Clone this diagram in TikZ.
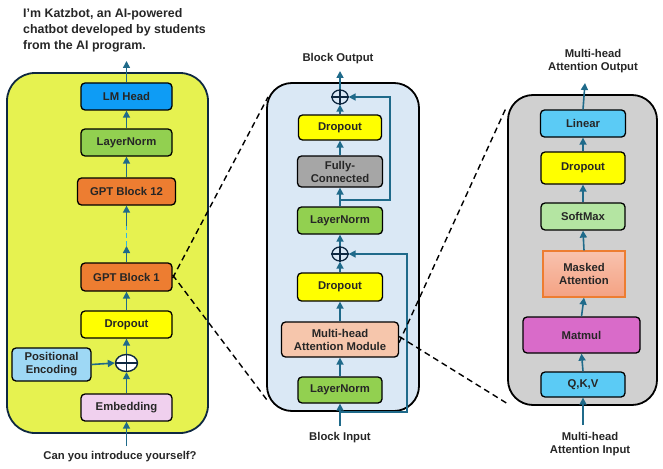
\documentclass[tikz,border=0pt]{standalone}
\usepackage{fontspec}
\setmainfont{Liberation Sans}
\usetikzlibrary{arrows.meta,shapes.geometric}
\definecolor{arr}{HTML}{1F6A8A}
\definecolor{navy}{HTML}{0E2841}
\definecolor{leftbg}{HTML}{E6F250}
\definecolor{midbg}{HTML}{DAE8F5}
\definecolor{rightbg}{HTML}{D0D0D0}
\definecolor{lmblue}{HTML}{0E9CF5}
\definecolor{lngreen}{HTML}{92D050}
\definecolor{gptorange}{HTML}{ED7D31}
\definecolor{dropyellow}{HTML}{FFFF00}
\definecolor{peblue}{HTML}{9ED8F5}
\definecolor{embpink}{HTML}{F0D0EE}
\definecolor{fcgray}{HTML}{A6A6A6}
\definecolor{mhapeach}{HTML}{F6C6AC}
\definecolor{skyblue}{HTML}{5BCBF5}
\definecolor{smgreen}{HTML}{B4E5A2}
\definecolor{matpink}{HTML}{D96BC9}
\definecolor{masktop}{HTML}{F8C2AE}
\definecolor{maskbot}{HTML}{F4A283}
\definecolor{lightdash}{HTML}{2FB4E8}
\begin{document}
\begin{tikzpicture}[x=1pt,y=-1pt,
  font=\bfseries\fontsize{11.3}{13}\selectfont,
  box/.style={draw=black, line width=1.3pt, rounded corners=4pt, inner sep=0pt, align=center, text=black!85},
  flow/.style={draw=arr, line width=1.6pt, -{Triangle[length=7pt,width=7pt]}},
  zoomline/.style={draw=black, line width=1.4pt, dash pattern=on 6pt off 4pt},
  lbl/.style={inner sep=0pt, align=center, text=black!85}]
\useasboundingbox (0,0) rectangle (663,468);

% panels
\draw[fill=leftbg, draw=navy, line width=1.8pt, rounded corners=28pt] (7,73) rectangle (208,433);
\draw[fill=midbg, draw=black, line width=1.8pt, rounded corners=25pt] (267,83) rectangle (419,411);
\draw[fill=rightbg, draw=black, line width=1.8pt, rounded corners=25pt] (508,95) rectangle (657,405);

% left column
\node[lbl, align=left, anchor=west, font=\bfseries\fontsize{12.4}{16}\selectfont] (reply) at (23,30) {I'm Katzbot, an AI-powered\\chatbot developed by students\\from the AI program.};
\node[box, fill=lmblue, minimum width=91pt, minimum height=27pt] (lm) at (126.5,96.5) {LM Head};
\node[box, fill=lngreen, minimum width=91pt, minimum height=27pt] (lnl) at (126.5,142.5) {LayerNorm};
\node[box, fill=gptorange, minimum width=98pt, minimum height=27pt] (g12) at (126.5,191.5) {GPT Block 12};
\node[box, fill=gptorange, minimum width=91pt, minimum height=28pt] (g1) at (126.5,277) {GPT Block 1};
\node[box, fill=dropyellow, minimum width=91pt, minimum height=27pt] (dl) at (126.5,324.5) {Dropout};
\node[draw=navy, line width=1.4pt, ellipse, minimum width=22pt, minimum height=17pt, inner sep=0pt, fill=white] (opl) at (126.5,363) {};
\draw[navy, line width=1.4pt] (opl.north) -- (opl.south) (opl.west) -- (opl.east);
\node[box, fill=peblue, minimum width=79pt, minimum height=33pt] (pe) at (51.5,364.5) {Positional\\Encoding};
\node[box, fill=embpink, minimum width=91pt, minimum height=27pt] (emb) at (126.5,407.5) {Embedding};
\node[lbl] (q) at (120,457) {Can you introduce yourself?};
\coordinate (lin) at (126.5,446);
\coordinate (lout) at (126.5,61);
\coordinate (d1) at (126.5,246);
\coordinate (d2) at (126.5,226);

\draw[flow] (lin) -- (emb.south);
\draw[flow] (emb.north) -- (opl.south);
\draw[flow] (pe.east) -- (opl.west);
\draw[flow] (opl.north) -- (dl.south);
\draw[flow] (dl.north) -- (g1.south);
\draw[flow] (g1.north) -- (d1);
\draw[draw=lightdash, line width=1.6pt, dash pattern=on 5pt off 3pt] (d1) -- (d2);
\draw[flow] (d2) -- (g12.south);
\draw[flow] (g12.north) -- (lnl.south);
\draw[flow] (lnl.north) -- (lm.south);
\draw[flow] (lm.north) -- (lout);

% middle column
\node[lbl] (bout) at (338,59) {Block Output};
\node[draw=navy, line width=1.3pt, ellipse, minimum width=16pt, minimum height=14pt, inner sep=0pt] (op1) at (340,97) {};
\draw[navy, line width=1.3pt] (op1.north) -- (op1.south) (op1.west) -- (op1.east);
\node[box, fill=dropyellow, minimum width=83pt, minimum height=25pt] (dm1) at (340,127.5) {Dropout};
\node[box, fill=fcgray, minimum width=85pt, minimum height=31pt] (fc) at (340,171.5) {Fully-\\Connected};
\node[box, fill=lngreen, minimum width=85pt, minimum height=27pt] (lnm1) at (340,220.5) {LayerNorm};
\node[draw=navy, line width=1.3pt, ellipse, minimum width=16pt, minimum height=14pt, inner sep=0pt] (op2) at (340,254) {};
\draw[navy, line width=1.3pt] (op2.north) -- (op2.south) (op2.west) -- (op2.east);
\node[box, fill=dropyellow, minimum width=85pt, minimum height=28pt] (dm2) at (340,287) {Dropout};
\node[box, fill=mhapeach, minimum width=117pt, minimum height=35pt] (mha) at (340,339.5) {Multi-head\\Attention Module};
\node[box, fill=lngreen, minimum width=84pt, minimum height=26pt] (lnm2) at (340,390) {LayerNorm};
\node[lbl] (bin) at (340,438) {Block Input};
\coordinate (min) at (340,426);
\coordinate (mout) at (340,71);
\coordinate (r1) at (340,412);
\coordinate (r2) at (340,200);

\draw[flow] (min) -- (lnm2.south);
\draw[flow] (lnm2.north) -- (mha.south);
\draw[flow] (mha.north) -- (dm2.south);
\draw[flow] (dm2.north) -- (op2.south);
\draw[flow] (op2.north) -- (lnm1.south);
\draw[flow] (lnm1.north) -- (fc.south);
\draw[flow] (fc.north) -- (dm1.south);
\draw[flow] (dm1.north) -- (op1.south);
\draw[flow] (op1.north) -- (mout);
\draw[flow] (r1) -| (407,254) -- (op2.east);
\draw[flow] (r2) -| (390,97) -- (op1.east);

% right column
\node[lbl] (mhout) at (593,61) {Multi-head\\Attention Output};
\node[box, fill=skyblue, minimum width=85pt, minimum height=27pt] (lin1) at (583,123.5) {Linear};
\node[box, fill=dropyellow, minimum width=84pt, minimum height=32pt] (dr) at (583,168) {Dropout};
\node[box, fill=smgreen, minimum width=84pt, minimum height=27pt] (sm) at (583,216.5) {SoftMax};
\node[draw=gptorange, line width=1.2pt, top color=masktop, bottom color=maskbot, minimum width=82pt, minimum height=46pt, inner sep=0pt, align=center, text=black!85] (mask) at (584,274) {Masked\\Attention};
\node[box, fill=matpink, minimum width=117pt, minimum height=36pt] (mm) at (581.5,335) {Matmul};
\node[box, fill=skyblue, minimum width=84pt, minimum height=25pt] (qkv) at (583,384.5) {Q,K,V};
\node[lbl] (mhin) at (590,444) {Multi-head\\Attention Input};
\coordinate (rin) at (583,425);
\coordinate (rout) at (585,83);

\draw[flow] (rin) -- (qkv.south);
\draw[flow] (qkv.north) -- (mm.south);
\draw[flow] (mm.north) -- (mask.south);
\draw[flow] (mask.north) -- (sm.south);
\draw[flow] (sm.north) -- (dr.south);
\draw[flow] (dr.north) -- (lin1.south);
\draw[flow] (lin1.north) -- (rout);

% zoom lines
\coordinate (zl1) at (268,97);
\coordinate (zl2) at (267,400);
\coordinate (zr1) at (506,108);
\coordinate (zr2) at (508,404);
\draw[zoomline] ([yshift=-1pt]g1.east) -- (zl1);
\draw[zoomline] ([yshift=2pt]g1.east) -- (zl2);
\draw[zoomline] ([yshift=-3pt]mha.east) -- (zr1);
\draw[zoomline] ([yshift=3pt]mha.east) -- (zr2);
\end{tikzpicture}
\end{document}
